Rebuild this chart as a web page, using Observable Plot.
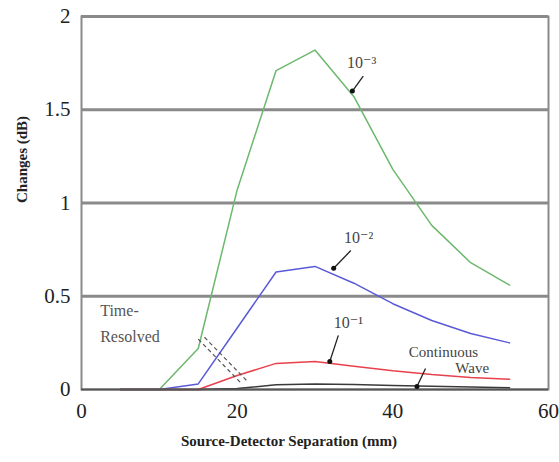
<!DOCTYPE html>
<html><head><meta charset="utf-8">
<script src="https://cdn.jsdelivr.net/npm/d3@7"></script>
<script src="https://cdn.jsdelivr.net/npm/@observablehq/plot@0.6"></script>
<style>body{margin:0;background:#fff}</style>
</head><body><div id="chart"></div>
<script>
const separation = [5, 10, 15, 20, 25, 30, 35, 40, 45, 50, 55];
const tr1e3 = [0, 0, 0.22, 1.07, 1.71, 1.82, 1.57, 1.18, 0.88, 0.68, 0.56];
const tr1e2 = [0, 0, 0.03, 0.33, 0.63, 0.66, 0.57, 0.46, 0.37, 0.30, 0.25];
const tr1e1 = [0, 0, 0, 0.075, 0.14, 0.15, 0.125, 0.10, 0.08, 0.065, 0.055];
const contWave = [0, 0, 0, 0.005, 0.025, 0.03, 0.027, 0.022, 0.017, 0.013, 0.01];
const seriesNames = ["1e-3", "1e-2", "1e-1", "cw"];
const seriesColors = ["#6cb86c", "#5a5ad8", "#e8404c", "#3a3a3a"];
const yTicks = [0, 0.5, 1, 1.5, 2];
const xTicks = [0, 20, 40, 60];

// annotations (data coordinates)
const labelText = ["10⁻³", "10⁻²", "10⁻¹"];
const labelX = [36.0, 35.6, 34.3];
const labelY = [1.75, 0.815, 0.355];
const arrowX1 = [36.2, 34.6, 33.0, 44.2];
const arrowY1 = [1.68, 0.745, 0.29, 0.113];
const arrowX2 = [34.8, 32.4, 31.9, 43.1];
const arrowY2 = [1.60, 0.65, 0.15, 0.016];
const cwText = ["Continuous", "Wave"];
const cwX = [46.5, 50.2];
const cwY = [0.20, 0.113];
const trText = ["Time-", "Resolved"];
const trX = [2.4, 2.4];
const trY = [0.42, 0.28];
const dashX1 = [15.0, 15.8];
const dashY1 = [0.27, 0.28];
const dashX2 = [20.6, 21.4];
const dashY2 = [0.03, 0.04];

const allSeries = [tr1e3, tr1e2, tr1e1, contWave];
const rows = allSeries.flatMap((vals, i) => separation.map((x, j) => ({x, y: vals[j], s: seriesNames[i]})));
const labels = labelText.map((t, i) => ({t, x: labelX[i], y: labelY[i]}));
const arrows = arrowX1.map((x1, i) => ({x1, y1: arrowY1[i], x2: arrowX2[i], y2: arrowY2[i]}));
const cw = cwText.map((t, i) => ({t, x: cwX[i], y: cwY[i]}));
const tr = trText.map((t, i) => ({t, x: trX[i], y: trY[i]}));
const dashes = dashX1.map((x1, i) => ({x1, y1: dashY1[i], x2: dashX2[i], y2: dashY2[i]}));

const chart = Plot.plot({
  width: 559, height: 462,
  marginLeft: 81, marginRight: 11, marginTop: 16, marginBottom: 73,
  style: {fontFamily: "'Liberation Serif', 'DejaVu Serif', serif", background: "#fff", color: "#222"},
  x: {domain: [0, 60]},
  y: {domain: [0, 2]},
  color: {domain: seriesNames, range: seriesColors},
  marks: [
    Plot.ruleY([0.5, 1, 1.5, 2], {stroke: "#8a8a8a", strokeWidth: 3}),
    Plot.frame({stroke: "#8a8a8a", strokeWidth: 2}),
    Plot.axisY({ticks: yTicks, tickSize: 0, tickPadding: 11, fontSize: 21, label: null, tickFormat: d => String(d)}),
    Plot.axisX({ticks: xTicks, tickSize: 0, tickPadding: 14, fontSize: 21, label: null}),
    Plot.line(rows, {x: "x", y: "y", z: "s", stroke: "s", strokeWidth: 1.5, curve: "linear"}),
    Plot.ruleY([0], {stroke: "#555", strokeWidth: 2}),
    Plot.link(dashes, {x1: "x1", y1: "y1", x2: "x2", y2: "y2", stroke: "#555", strokeWidth: 1.2, strokeDasharray: "4,3"}),
    Plot.link(arrows, {x1: "x1", y1: "y1", x2: "x2", y2: "y2", stroke: "#222", strokeWidth: 1.3}),
    Plot.dot(arrows, {x: "x2", y: "y2", r: 2.5, fill: "#111", stroke: null}),
    Plot.text(labels, {x: "x", y: "y", text: "t", fontSize: 16, fill: "#444"}),
    Plot.text(cw, {x: "x", y: "y", text: "t", fontSize: 15, fill: "#444"}),
    Plot.text(tr, {x: "x", y: "y", text: "t", fontSize: 16, fill: "#555", textAnchor: "start"}),
    Plot.text(["Changes (dB)"], {frameAnchor: "left", dx: -59, rotate: -90, fontSize: 15, fontWeight: "bold", fill: "#222"}),
    Plot.text(["Source-Detector Separation (mm)"], {frameAnchor: "bottom", dy: 56, dx: -26, fontSize: 15, fontWeight: "bold", fill: "#222"})
  ]
});
document.getElementById("chart").append(chart);
</script>
</body></html>
